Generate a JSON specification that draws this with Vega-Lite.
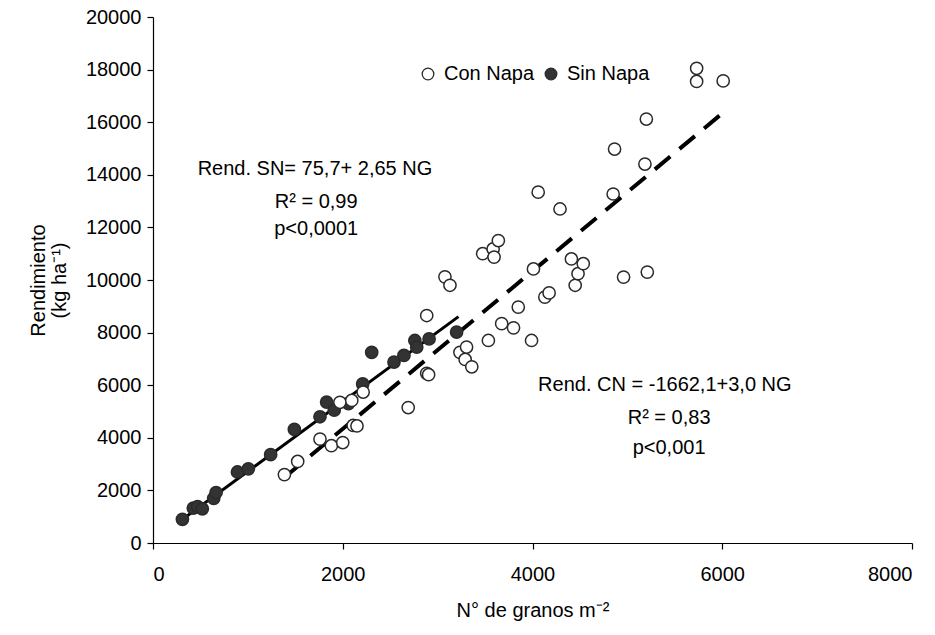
{
  "$schema": "https://vega.github.io/schema/vega-lite/v6.json",
  "width": 759,
  "height": 526,
  "autosize": "none",
  "padding": {"left": 153, "top": 17, "right": 23, "bottom": 92},
  "background": "white",
  "config": {
    "view": {"stroke": null},
    "font": "Liberation Sans",
    "axis": {"grid": false, "domainColor": "black", "tickColor": "black", "labelColor": "black", "titleColor": "black", "labelFontSize": 20, "titleFontSize": 20, "titleFontWeight": "normal", "domainWidth": 1.2, "tickWidth": 1.2}
  },
  "datasets": {
    "pts": [
      {"g": "Sin Napa", "x": 310, "y": 900},
      {"g": "Sin Napa", "x": 425, "y": 1330},
      {"g": "Sin Napa", "x": 470, "y": 1380},
      {"g": "Sin Napa", "x": 520, "y": 1300},
      {"g": "Sin Napa", "x": 640, "y": 1700},
      {"g": "Sin Napa", "x": 665, "y": 1920},
      {"g": "Sin Napa", "x": 890, "y": 2700},
      {"g": "Sin Napa", "x": 1005, "y": 2820},
      {"g": "Sin Napa", "x": 1240, "y": 3360},
      {"g": "Sin Napa", "x": 1490, "y": 4320},
      {"g": "Sin Napa", "x": 1760, "y": 4800},
      {"g": "Sin Napa", "x": 1830, "y": 5360},
      {"g": "Sin Napa", "x": 1910, "y": 5050},
      {"g": "Sin Napa", "x": 2060, "y": 5300},
      {"g": "Sin Napa", "x": 2210, "y": 6050},
      {"g": "Sin Napa", "x": 2305, "y": 7250},
      {"g": "Sin Napa", "x": 2540, "y": 6880},
      {"g": "Sin Napa", "x": 2645, "y": 7130},
      {"g": "Sin Napa", "x": 2760, "y": 7700},
      {"g": "Sin Napa", "x": 2780, "y": 7450},
      {"g": "Sin Napa", "x": 2910, "y": 7760},
      {"g": "Sin Napa", "x": 3200, "y": 8020},
      {"g": "Con Napa", "x": 1385, "y": 2600},
      {"g": "Con Napa", "x": 1525, "y": 3100},
      {"g": "Con Napa", "x": 1760, "y": 3950},
      {"g": "Con Napa", "x": 1880, "y": 3700},
      {"g": "Con Napa", "x": 2000, "y": 3820},
      {"g": "Con Napa", "x": 2110, "y": 4470},
      {"g": "Con Napa", "x": 2150, "y": 4450},
      {"g": "Con Napa", "x": 1970, "y": 5350},
      {"g": "Con Napa", "x": 2095, "y": 5420},
      {"g": "Con Napa", "x": 2215, "y": 5740},
      {"g": "Con Napa", "x": 2690, "y": 5150},
      {"g": "Con Napa", "x": 2885, "y": 6450},
      {"g": "Con Napa", "x": 2905, "y": 6400},
      {"g": "Con Napa", "x": 3235, "y": 7250},
      {"g": "Con Napa", "x": 3290, "y": 6980},
      {"g": "Con Napa", "x": 3305, "y": 7450},
      {"g": "Con Napa", "x": 3360, "y": 6700},
      {"g": "Con Napa", "x": 2885, "y": 8650},
      {"g": "Con Napa", "x": 3077, "y": 10120},
      {"g": "Con Napa", "x": 3130, "y": 9800},
      {"g": "Con Napa", "x": 3475, "y": 11000},
      {"g": "Con Napa", "x": 3585, "y": 11180},
      {"g": "Con Napa", "x": 3595, "y": 10870},
      {"g": "Con Napa", "x": 3640, "y": 11500},
      {"g": "Con Napa", "x": 3535, "y": 7700},
      {"g": "Con Napa", "x": 3675, "y": 8340},
      {"g": "Con Napa", "x": 3800, "y": 8180},
      {"g": "Con Napa", "x": 3850, "y": 8970},
      {"g": "Con Napa", "x": 3990, "y": 7700},
      {"g": "Con Napa", "x": 4010, "y": 10420},
      {"g": "Con Napa", "x": 4060, "y": 13340},
      {"g": "Con Napa", "x": 4130, "y": 9350},
      {"g": "Con Napa", "x": 4175, "y": 9510},
      {"g": "Con Napa", "x": 4290, "y": 12700},
      {"g": "Con Napa", "x": 4410, "y": 10800},
      {"g": "Con Napa", "x": 4450, "y": 9800},
      {"g": "Con Napa", "x": 4480, "y": 10240},
      {"g": "Con Napa", "x": 4535, "y": 10620},
      {"g": "Con Napa", "x": 4850, "y": 13270},
      {"g": "Con Napa", "x": 4865, "y": 14980},
      {"g": "Con Napa", "x": 4960, "y": 10110},
      {"g": "Con Napa", "x": 5185, "y": 14410},
      {"g": "Con Napa", "x": 5200, "y": 16120},
      {"g": "Con Napa", "x": 5210, "y": 10300},
      {"g": "Con Napa", "x": 5730, "y": 18050},
      {"g": "Con Napa", "x": 5730, "y": 17550},
      {"g": "Con Napa", "x": 6010, "y": 17570}
    ],
    "sn": [{"x": 300, "y": 870.7}, {"x": 3220, "y": 8608.7}],
    "cn": [{"x": 1400, "y": 2537.9}, {"x": 6050, "y": 16487.9}],
    "notes": [
      {"x": 1707, "y": 14230, "t": "Rend. SN= 75,7+ 2,65 NG"},
      {"x": 1720, "y": 12980, "t": "R² = 0,99"},
      {"x": 1720, "y": 11954, "t": "p<0,0001"},
      {"x": 5395, "y": 5996, "t": "Rend. CN = -1662,1+3,0 NG"},
      {"x": 5440, "y": 4744, "t": "R² = 0,83"},
      {"x": 5440, "y": 3605, "t": "p<0,001"}
    ]
  },
  "layer": [
    {
      "data": {"name": "sn"},
      "mark": {"type": "line", "color": "black", "strokeWidth": 3},
      "encoding": {
        "x": {"field": "x", "type": "quantitative"},
        "y": {"field": "y", "type": "quantitative"}
      }
    },
    {
      "data": {"name": "cn"},
      "mark": {"type": "line", "color": "black", "strokeWidth": 4, "strokeDash": [20, 12]},
      "encoding": {
        "x": {"field": "x", "type": "quantitative"},
        "y": {"field": "y", "type": "quantitative"}
      }
    },
    {
      "data": {"name": "pts"},
      "mark": {"type": "point", "shape": "circle", "size": 150, "stroke": "#2a2a2a", "strokeWidth": 1.5, "opacity": 1, "filled": false},
      "encoding": {
        "x": {"field": "x", "type": "quantitative", "scale": {"domain": [0, 8000], "nice": false}, "axis": {"values": [0, 2000, 4000, 6000, 8000], "format": "d", "tickSize": 6, "labelPadding": 15, "title": "N° de granos m⁻²", "titlePadding": 16}},
        "y": {"field": "y", "type": "quantitative", "scale": {"domain": [0, 20000], "nice": false}, "axis": {"values": [0, 2000, 4000, 6000, 8000, 10000, 12000, 14000, 16000, 18000, 20000], "format": "d", "tickSize": 6, "labelPadding": 6, "title": ["Rendimiento", "(kg ha⁻¹)"], "titlePadding": 16, "titleLineHeight": 21}},
        "fill": {"field": "g", "type": "nominal", "scale": {"domain": ["Con Napa", "Sin Napa"], "range": ["white", "#333333"]},
          "legend": {"title": null, "orient": "none", "legendX": 265, "legendY": 47, "direction": "horizontal", "labelFontSize": 20, "labelColor": "black", "symbolSize": 135, "symbolStrokeColor": "#2a2a2a", "symbolStrokeWidth": 1.3, "symbolType": "circle", "columnPadding": 6, "labelOffset": 6}}
      }
    },
    {
      "data": {"name": "notes"},
      "mark": {"type": "text", "fontSize": 20, "color": "black", "align": "center", "baseline": "middle"},
      "encoding": {
        "x": {"field": "x", "type": "quantitative"},
        "y": {"field": "y", "type": "quantitative"},
        "text": {"field": "t"}
      }
    }
  ]
}
